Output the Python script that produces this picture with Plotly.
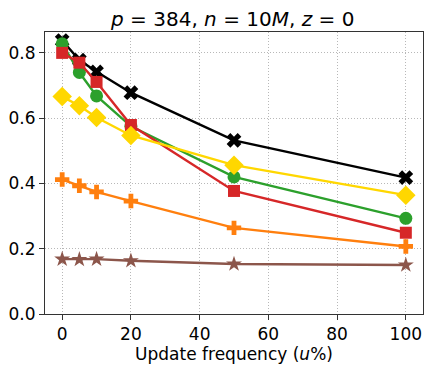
import plotly.graph_objects as go

x_vals = [0, 5, 10, 20, 50, 100]
black_x = [0.838, 0.778, 0.742, 0.678, 0.532, 0.418]
green_circle = [0.828, 0.740, 0.668, 0.575, 0.420, 0.293]
red_square = [0.800, 0.770, 0.711, 0.579, 0.377, 0.249]
gold_diamond = [0.666, 0.638, 0.602, 0.547, 0.456, 0.364]
orange_plus = [0.412, 0.393, 0.374, 0.346, 0.264, 0.207]
brown_star = [0.168, 0.167, 0.168, 0.163, 0.153, 0.150]

series = [
    (black_x, "black", "x", 13),
    (green_circle, "#2ca02c", "circle", 13),
    (red_square, "#d62728", "square", 12),
    (gold_diamond, "#ffd700", "diamond", 15),
    (orange_plus, "#ff7f0e", "cross", 12),
    (brown_star, "#8c564b", "star", 12),
]

fig = go.Figure()
for ys, col, sym, sz in series:
    fig.add_trace(go.Scatter(
        x=x_vals, y=ys, mode="lines+markers",
        line=dict(color=col, width=2.4),
        marker=dict(color=col, symbol=sym, size=sz, line=dict(width=0)),
        showlegend=False,
    ))

font = "DejaVu Sans"
fig.update_layout(
    width=424, height=363,
    margin=dict(l=37, r=9, t=24, b=57),
    paper_bgcolor="white", plot_bgcolor="white",
    font=dict(family=font, size=17, color="black"),
    title=dict(text="<i>p</i> = 384, <i>n</i> = 10<i>M</i>, <i>z</i> = 0",
               x=0.53, xref="container", xanchor="center", y=0.97, yref="container",
               yanchor="middle", font=dict(size=20)),
)
axis_common = dict(
    showline=True, linecolor="#333333", linewidth=1, mirror=True,
    ticks="outside", ticklen=5, tickcolor="#333333",
    showgrid=True, gridcolor="#b8b8b8", griddash="1px,2px", gridwidth=1,
    zeroline=False, tickfont=dict(size=17), automargin=False,
)
fig.update_xaxes(range=[-5, 105], tickvals=[0, 20, 40, 60, 80, 100],
                 title=dict(text="Update frequency (<i>u</i>%)", font=dict(size=17), standoff=2),
                 **axis_common)
fig.update_yaxes(range=[0, 0.864], tickvals=[0, 0.2, 0.4, 0.6, 0.8],
                 tickformat=".1f", **axis_common)

fig.write_html("out.html")
